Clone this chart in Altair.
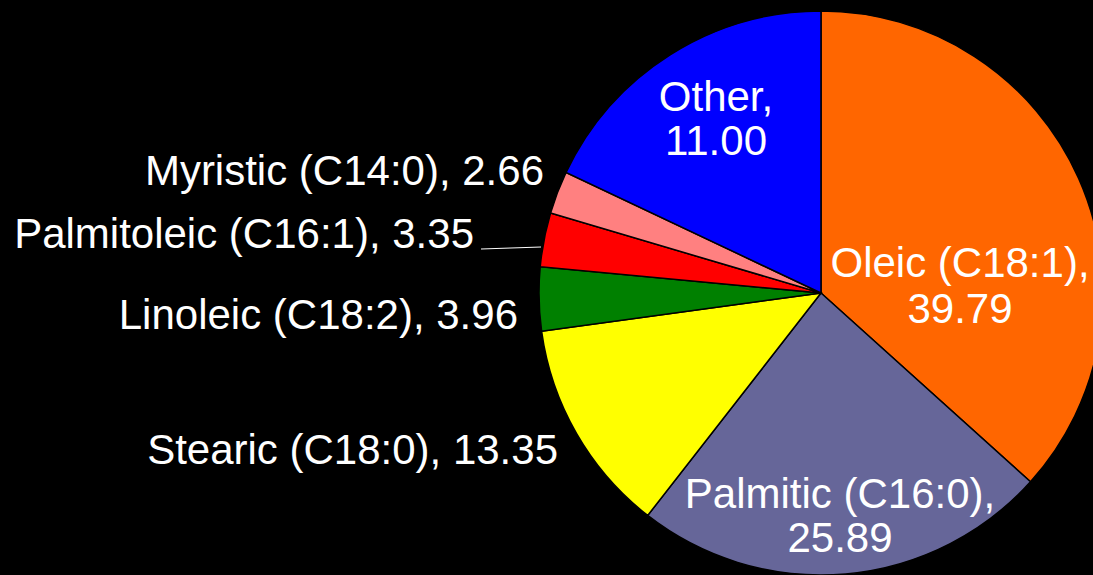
import altair as alt
import pandas as pd

# Slice data (order clockwise from 12 o'clock)
names = ["Oleic (C18:1)", "Palmitic (C16:0)", "Stearic (C18:0)", "Linoleic (C18:2)",
         "Palmitoleic (C16:1)", "Myristic (C14:0)", "Other"]
label_values = ["39.79", "25.89", "13.35", "3.96", "3.35", "2.66", "11.00"]
# slice sizes as drawn in the picture (the "Other" wedge is drawn larger than its label)
slice_values = [39.79, 25.89, 13.35, 3.96, 3.35, 2.66, 19.5]
colors = ["#FF6600", "#666699", "#FFFF00", "#008000", "#FF0000", "#FF8080", "#0000FF"]

df = pd.DataFrame({
    "name": names,
    "value": slice_values,
    "label": label_values,
    "idx": list(range(len(names))),
})

W, H = 1093, 575
CX, CY, R = 821, 293, 282
FONT = "Liberation Sans"
FS = 42

pie = alt.Chart(df).mark_arc(radius=R, stroke="black", strokeWidth=1.5).encode(
    theta=alt.Theta("value:Q", stack=True),
    color=alt.Color("name:N", scale=alt.Scale(domain=names, range=colors), legend=None),
    order=alt.Order("idx:Q"),
    x=alt.value(CX),
    y=alt.value(CY),
)

# label layout: (name, x, first baseline, second baseline or None, align)
layout = [
    ("Oleic (C18:1)", 960, 277, 323, "center"),
    ("Palmitic (C16:0)", 840, 508, 552, "center"),
    ("Stearic (C18:0)", 558, 464, None, "right"),
    ("Linoleic (C18:2)", 518, 329, None, "right"),
    ("Palmitoleic (C16:1)", 474, 248, None, "right"),
    ("Myristic (C14:0)", 544, 185, None, "right"),
    ("Other", 716, 111, 155, "center"),
]


def text_layer(txt, x, y, align):
    d = pd.DataFrame({"t": [txt]})
    return alt.Chart(d).mark_text(
        font=FONT, fontSize=FS, color="white", align=align, baseline="alphabetic",
    ).encode(text="t:N", x=alt.value(x), y=alt.value(y))


layers = [pie]
for name, x, y1, y2, align in layout:
    row = df[df["name"] == name].iloc[0]
    if y2 is None:
        layers.append(text_layer(f"{row['name']}, {row['label']}", x, y1, align))
    else:
        layers.append(text_layer(f"{row['name']},", x, y1, align))
        layers.append(text_layer(f"{row['label']}", x, y2, align))

leader = alt.Chart(pd.DataFrame({"a": [0]})).mark_rule(color="white", strokeWidth=1).encode(
    x=alt.value(481), x2=alt.value(541), y=alt.value(249), y2=alt.value(247)
)
layers.append(leader)

chart = alt.layer(*layers).properties(
    width=W, height=H, background="black",
    autosize=alt.AutoSizeParams(type="none"), padding=0,
).configure_view(stroke=None)

chart.save("out.html", embed_options={"renderer": "svg", "actions": False})
